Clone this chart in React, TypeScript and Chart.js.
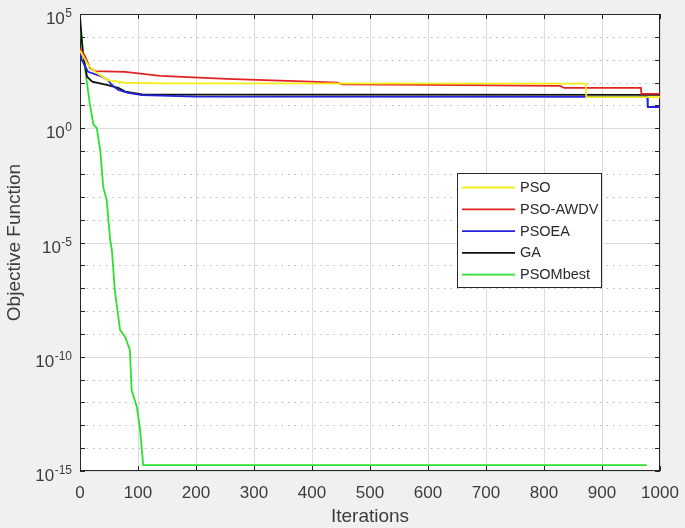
import React, { useEffect, useRef } from 'react';
import { Chart, registerables } from 'chart.js';

Chart.register(...registerables);

const FONT = "Arial, 'Liberation Sans', Helvetica, sans-serif";
const TEXT = '#3c3c3c';
const AXIS = '#262626';

// Axis ticks
const xTicks = [0, 100, 200, 300, 400, 500, 600, 700, 800, 900, 1000];
const yDecades = [1e-15, 1e-14, 1e-13, 1e-12, 1e-11, 1e-10, 1e-9, 1e-8, 1e-7, 1e-6, 1e-5, 1e-4, 1e-3, 1e-2, 1e-1, 1, 10, 100, 1e3, 1e4, 1e5];
const yLabelValues = [1e-15, 1e-10, 1e-5, 1, 1e5];
const yLabelExponents = ['-15', '-10', '-5', '0', '5'];

// Series
const seriesLabels = ['PSO', 'PSO-AWDV', 'PSOEA', 'GA', 'PSOMbest'];
const seriesColors = ['#f4ee1a', '#e32222', '#2424e0', '#111111', '#2ee02e'];

const psoIter = [0, 14, 26, 48, 78, 150, 872, 873, 1000];
const psoVal = [2512, 589, 295, 129, 98, 92, 90, 23, 23];

const awdvIter = [0, 9, 17, 26, 78, 138, 253, 397, 444, 452, 600, 828, 835, 967, 968, 1000];
const awdvVal = [3236, 1349, 437, 316, 295, 195, 145, 110, 98, 83, 79, 71, 58, 58, 32, 32];

const psoeaIter = [0, 3, 14, 38, 48, 55, 66, 83, 107, 200, 978, 979, 1000];
const psoeaVal = [3000, 980, 295, 182, 129, 78, 47, 35, 28, 24, 23.5, 8.5, 8.5];

const gaIter = [0, 5, 12, 21, 48, 66, 78, 107, 1000];
const gaVal = [76000, 1950, 182, 110, 78, 58, 40, 30, 29];

const mbestIter = [0, 9, 17, 23, 29, 35, 40, 46, 52, 55, 60, 69, 78, 86, 89, 98, 103, 109, 977];
const mbestVal = [33000, 355, 11, 1.5, 1.0, 0.1, 2.7e-3, 7.2e-4, 1.3e-5, 4.7e-6, 8.3e-8, 1.5e-9, 7.2e-10, 2e-10, 3.5e-12, 6.3e-13, 8.5e-14, 1.8e-15, 1.8e-15];

const seriesIters = [psoIter, awdvIter, psoeaIter, gaIter, mbestIter];
const seriesVals = [psoVal, awdvVal, psoeaVal, gaVal, mbestVal];

const matlabPlugin = {
  id: 'matlabStyle',
  beforeDraw(chart: any) {
    const { ctx, width, height, chartArea: a } = chart;
    ctx.save();
    ctx.fillStyle = '#f0f0f0';
    ctx.fillRect(0, 0, width, height);
    ctx.fillStyle = '#ffffff';
    ctx.fillRect(a.left, a.top, a.right - a.left, a.bottom - a.top);
    ctx.restore();
  },
  beforeDatasetsDraw(chart: any) {
    const { ctx, chartArea: a } = chart;
    const ys = chart.scales.y;
    const xs = chart.scales.x;
    ctx.save();
    // y grid
    yDecades.forEach((v) => {
      const y = Math.round(ys.getPixelForValue(v)) + 0.5;
      const major = yLabelValues.includes(v);
      ctx.beginPath();
      ctx.lineWidth = 1;
      if (major) {
        ctx.setLineDash([]);
        ctx.strokeStyle = '#dcdcdc';
      } else {
        ctx.setLineDash([1.5, 5]);
        ctx.strokeStyle = '#b8b8b8';
      }
      ctx.moveTo(a.left, y);
      ctx.lineTo(a.right, y);
      ctx.stroke();
    });
    ctx.setLineDash([]);
    // box
    ctx.strokeStyle = AXIS;
    ctx.lineWidth = 1;
    ctx.strokeRect(a.left + 0.5, a.top + 0.5, a.right - a.left - 1, a.bottom - a.top - 1);
    // tick marks (inward)
    const tl = 5;
    ctx.beginPath();
    xTicks.forEach((v) => {
      const x = Math.round(xs.getPixelForValue(v)) + 0.5;
      ctx.moveTo(x, a.bottom);
      ctx.lineTo(x, a.bottom - tl);
      ctx.moveTo(x, a.top);
      ctx.lineTo(x, a.top + tl);
    });
    yDecades.forEach((v) => {
      const y = Math.round(ys.getPixelForValue(v)) + 0.5;
      ctx.moveTo(a.left, y);
      ctx.lineTo(a.left + tl, y);
      ctx.moveTo(a.right, y);
      ctx.lineTo(a.right - tl, y);
    });
    ctx.stroke();
    // y tick labels 10^n
    ctx.fillStyle = TEXT;
    ctx.textAlign = 'right';
    ctx.textBaseline = 'alphabetic';
    const rightX = a.left - 8;
    yLabelValues.forEach((v, i) => {
      const y = ys.getPixelForValue(v);
      const exp = yLabelExponents[i];
      ctx.font = `12px ${FONT}`;
      const ew = ctx.measureText(exp).width;
      ctx.fillText(exp, rightX, y + 3);
      ctx.font = `17px ${FONT}`;
      ctx.fillText('10', rightX - ew - 0.5, y + 10);
    });
    ctx.restore();
  },
  afterDatasetsDraw(chart: any) {
    const { ctx } = chart;
    const lx = 457, ly = 173, lw = 144, lh = 114;
    ctx.save();
    ctx.fillStyle = '#ffffff';
    ctx.fillRect(lx, ly, lw, lh);
    ctx.strokeStyle = AXIS;
    ctx.lineWidth = 1;
    ctx.strokeRect(lx + 0.5, ly + 0.5, lw, lh);
    ctx.font = `14.5px ${FONT}`;
    ctx.textAlign = 'left';
    ctx.textBaseline = 'middle';
    chart.data.datasets.forEach((ds: any, i: number) => {
      const yc = ly + 14.5 + i * 21.8;
      ctx.beginPath();
      ctx.strokeStyle = ds.borderColor;
      ctx.lineWidth = 1.8;
      ctx.moveTo(lx + 5, yc);
      ctx.lineTo(lx + 58, yc);
      ctx.stroke();
      ctx.fillStyle = '#2a2a2a';
      ctx.fillText(ds.label, lx + 63, yc + 0.5);
    });
    ctx.restore();
  },
};

export default function App() {
  const ref = useRef<HTMLCanvasElement>(null);
  useEffect(() => {
    document.body.style.margin = '0';
    const datasets = seriesLabels.map((label, i) => ({
      label,
      data: seriesIters[i].map((x, j) => ({ x, y: seriesVals[i][j] })),
      borderColor: seriesColors[i],
      backgroundColor: seriesColors[i],
      borderWidth: 1.8,
      pointRadius: 0,
      tension: 0,
      fill: false,
    }));
    const chart = new Chart(ref.current as HTMLCanvasElement, {
      type: 'line',
      data: { datasets },
      options: {
        responsive: false,
        animation: false,
        devicePixelRatio: 1,
        layout: { padding: { top: 14, right: 25, left: 0, bottom: 0 } },
        plugins: { legend: { display: false }, tooltip: { enabled: false } },
        scales: {
          x: {
            type: 'linear',
            min: 0,
            max: 1000,
            afterBuildTicks: (s: any) => {
              s.ticks = xTicks.map((v) => ({ value: v }));
            },
            afterFit: (s: any) => {
              s.height = 57;
              s.paddingLeft = 0;
              s.paddingRight = 0;
            },
            grid: { color: '#dcdcdc', drawTicks: false, lineWidth: 1 },
            border: { display: false },
            ticks: {
              autoSkip: false,
              maxRotation: 0,
              padding: 12,
              color: TEXT,
              font: { family: FONT, size: 17 },
              callback: (v: any) => String(v),
            },
            title: {
              display: true,
              text: 'Iterations',
              color: TEXT,
              font: { family: FONT, size: 19 },
              padding: { top: 0, bottom: 0 },
            },
          },
          y: {
            type: 'logarithmic',
            min: 1e-15,
            max: 1e5,
            afterFit: (s: any) => {
              s.width = 80;
              s.paddingTop = 0;
              s.paddingBottom = 0;
            },
            grid: { display: false },
            border: { display: false },
            ticks: { display: false },
            title: {
              display: true,
              text: 'Objective Function',
              color: TEXT,
              font: { family: FONT, size: 19 },
              padding: { top: 3, bottom: 0 },
            },
          },
        },
      },
      plugins: [matlabPlugin],
    } as any);
    return () => chart.destroy();
  }, []);
  return (
    <div style={{ width: 685, height: 528 }}>
      <canvas ref={ref} width={685} height={528} style={{ display: 'block' }} />
    </div>
  );
}
